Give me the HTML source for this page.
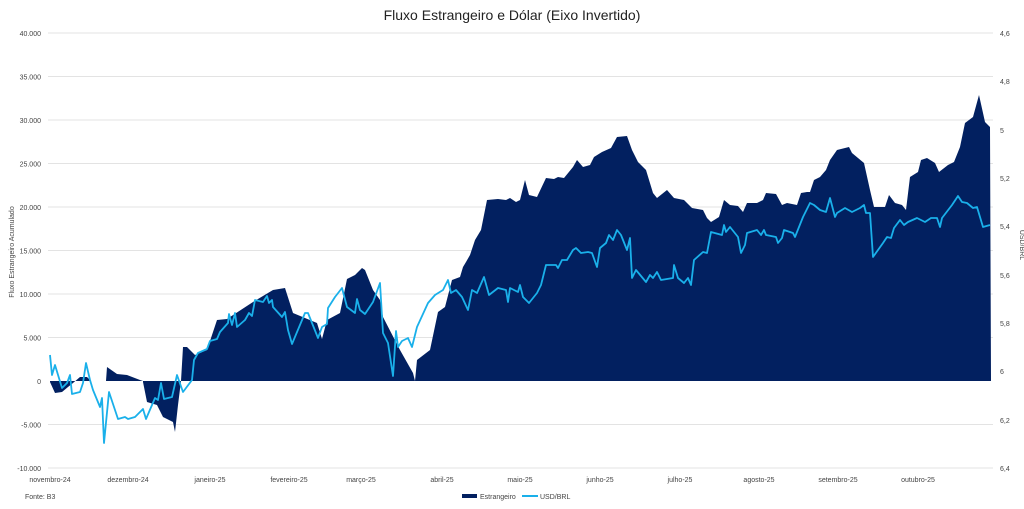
<!DOCTYPE html>
<html><head><meta charset="utf-8"><style>
html,body{margin:0;padding:0;background:#fff;}
svg{display:block;font-family:"Liberation Sans",sans-serif;}
.t{font-size:7px;fill:#444;}
</style></head><body>
<svg width="1024" height="509" viewBox="0 0 1024 509">
<text x="512" y="20" text-anchor="middle" font-size="14" fill="#222">Fluxo Estrangeiro e Dólar (Eixo Invertido)</text>
<g stroke="#e3e3e3" stroke-width="1">
<line x1="48" x2="993" y1="33" y2="33"/><line x1="48" x2="993" y1="76.5" y2="76.5"/>
<line x1="48" x2="993" y1="120" y2="120"/><line x1="48" x2="993" y1="163.5" y2="163.5"/>
<line x1="48" x2="993" y1="207" y2="207"/><line x1="48" x2="993" y1="250.5" y2="250.5"/>
<line x1="48" x2="993" y1="294" y2="294"/><line x1="48" x2="993" y1="337.5" y2="337.5"/>
<line x1="48" x2="993" y1="424.5" y2="424.5"/><line x1="48" x2="993" y1="468" y2="468"/>
</g>
<g class="t" text-anchor="end">
<text x="41" y="36">40.000</text><text x="41" y="79.5">35.000</text><text x="41" y="123">30.000</text>
<text x="41" y="166.5">25.000</text><text x="41" y="210">20.000</text><text x="41" y="253.5">15.000</text>
<text x="41" y="297">10.000</text><text x="41" y="340.5">5.000</text><text x="41" y="384">0</text>
<text x="41" y="427.5">-5.000</text><text x="41" y="471">-10.000</text>
</g>
<g class="t">
<text x="1000" y="36">4,6</text><text x="1000" y="84">4,8</text><text x="1000" y="133">5</text>
<text x="1000" y="181">5,2</text><text x="1000" y="229">5,4</text><text x="1000" y="278">5,6</text>
<text x="1000" y="326">5,8</text><text x="1000" y="374">6</text><text x="1000" y="423">6,2</text>
<text x="1000" y="471">6,4</text>
</g>
<text class="t" transform="translate(14,252) rotate(-90)" text-anchor="middle">Fluxo Estrangeiro Acumulado</text>
<text class="t" transform="translate(1020,245) rotate(90)" text-anchor="middle">USD/BRL</text>
<g class="t" text-anchor="middle">
<text x="50" y="482">novembro-24</text><text x="128" y="482">dezembro-24</text><text x="210" y="482">janeiro-25</text>
<text x="289" y="482">fevereiro-25</text><text x="361" y="482">março-25</text><text x="442" y="482">abril-25</text>
<text x="520" y="482">maio-25</text><text x="600" y="482">junho-25</text><text x="680" y="482">julho-25</text>
<text x="759" y="482">agosto-25</text><text x="838" y="482">setembro-25</text><text x="918" y="482">outubro-25</text>
</g>
<text class="t" x="25" y="499">Fonte: B3</text>
<rect x="462" y="494" width="15" height="4" fill="#022060"/>
<text class="t" x="480" y="499">Estrangeiro</text>
<line x1="522" x2="538" y1="496" y2="496" stroke="#1ab0ea" stroke-width="2"/>
<text class="t" x="540" y="499">USD/BRL</text>
<polygon fill="#022060" points="50,381 50,382 55,393 62,392 68,387 73,383 80,377 87,377 91,381 106,381 107,367 117,374 127,375 140,380 143,381 143,382 147,402 157,405 163,417 173,422 175,432 178,405 181,381 183,347 187,347 195,355 207,350 217,320 227,319 253,302 273,290 285,288 293,313 317,323 322,339 327,320 340,313 347,279 355,275 362,268 365,270 373,290 380,300 383,317 400,350 413,373 415,381 417,360 430,350 438,312 445,307 452,280 460,277 463,267 466,262 470,255 475,240 481,230 487,200 498,199 506,200 510,198 516,202 520,200 525,180 529,195 537,197 546,178 554,179 558,177 564,178 573,167 577,160 583,167 590,165 594,157 602,152 611,148 617,137 627,136 632,150 638,162 646,170 653,193 657,198 667,190 674,198 684,200 692,208 703,210 707,218 711,222 719,217 724,200 730,205 738,206 743,212 747,203 757,203 763,200 766,193 776,194 782,205 787,203 797,205 801,193 807,192 810,192 814,180 820,177 826,170 830,160 837,150 849,147 852,153 864,163 870,190 874,207 885,207 889,195 895,203 902,205 906,210 910,177 918,172 921,160 927,158 935,163 939,172 948,165 954,162 960,147 965,123 973,117 979,95 985,122 990,127 991,381"/>
<polyline fill="none" stroke="#1ab0ea" stroke-width="1.8" stroke-linejoin="round" points="50,355 52,375 55,365 62,388 67,383 70,375 72,394 80,392 83,383 86,363 90,380 93,390 100,407 102,398 104,443 109,392 118,419 125,417 128,419 135,417 143,409 146,419 155,398 158,400 161,383 164,399 172,397 177,375 183,392 192,380 194,360 198,353 207,349 210,341 217,339 220,332 228,323 229,314 232,325 235,313 237,327 245,320 249,313 252,316 255,300 263,302 267,296 269,303 272,300 273,307 282,317 285,312 288,330 292,344 305,313 308,313 318,338 322,327 327,324 328,308 335,297 342,288 347,307 355,313 357,299 360,310 365,314 373,302 380,283 383,333 388,343 393,376 396,331 398,347 402,341 408,338 412,347 417,327 428,303 435,295 443,290 448,280 451,293 456,290 462,297 468,310 472,290 477,293 484,277 489,295 498,288 506,290 508,302 510,288 518,292 520,285 523,297 529,303 537,293 541,285 546,265 556,265 558,268 562,260 567,260 573,250 576,248 581,253 588,252 592,253 597,267 600,248 606,243 609,235 613,240 617,230 621,235 627,250 630,238 632,278 636,270 646,282 650,275 653,278 657,272 661,280 673,278 674,265 678,278 684,283 688,278 691,285 694,260 703,252 707,253 711,232 722,235 724,225 726,232 730,227 738,237 741,253 745,245 747,233 757,230 761,235 764,230 766,235 776,237 778,243 782,238 784,230 793,233 795,237 803,217 810,203 814,205 820,210 826,212 830,198 835,217 837,213 845,208 852,212 860,208 864,205 866,213 870,213 873,257 883,243 887,237 891,238 894,228 900,220 904,225 908,222 917,218 925,222 931,218 937,218 940,227 942,218 952,205 958,196 962,202 967,203 973,208 977,207 983,227 990,225"/>
</svg>
</body></html>
